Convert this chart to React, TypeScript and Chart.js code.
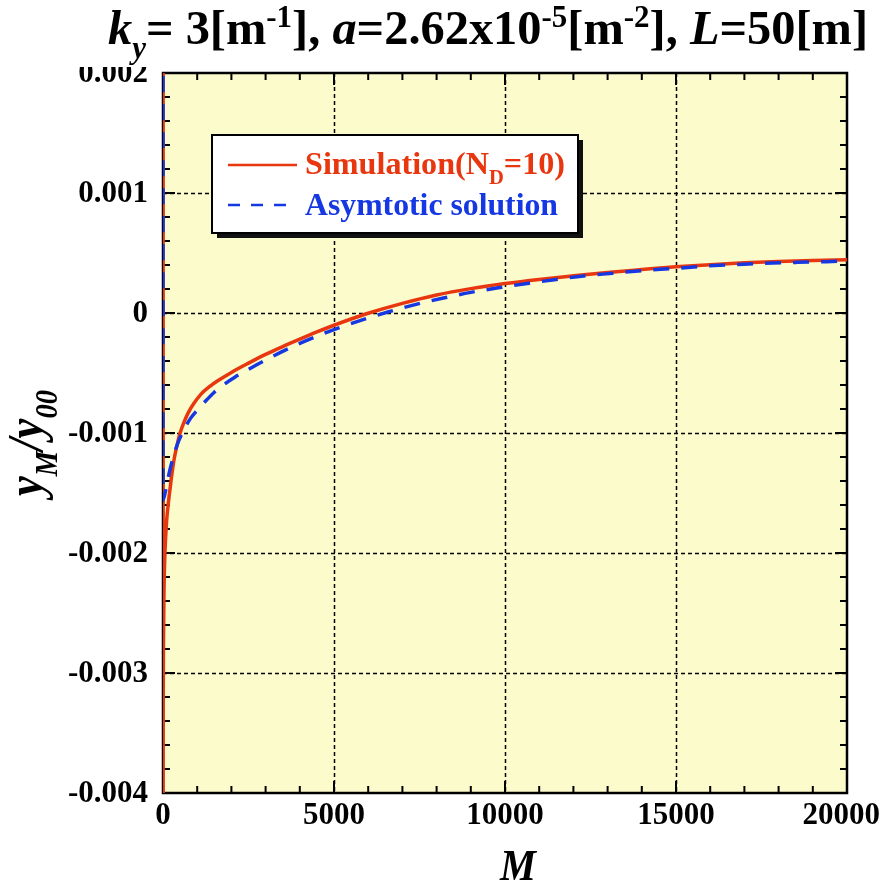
import React, { useEffect, useRef } from 'react';
import { Chart, registerables } from 'chart.js';

Chart.register(...registerables);

// ---------- data ----------
const simM = [0, 2, 5, 15, 30, 50, 75, 107, 150, 204, 270, 330, 420, 500, 600, 740, 900, 1100, 1400, 1600, 2000, 2500, 3000, 3500, 4000, 4500, 5000, 5500, 6000, 7000, 8000, 9000, 10000, 11000, 12000, 13000, 14000, 15000, 16000, 17000, 18000, 19000, 20000];
const simY = [1, -0.0045, -0.0034, -0.0027, -0.0023, -0.00205, -0.00188, -0.00173, -0.0016, -0.00147, -0.00132, -0.00121, -0.00109, -0.001, -0.00092, -0.00083, -0.000755, -0.00068, -0.000605, -0.000565, -0.000495, -0.000418, -0.000345, -0.00028, -0.000218, -0.000158, -0.000102, -0.00005, -0.000002, 0.00008, 0.00015, 0.000203, 0.000245, 0.00028, 0.00031, 0.000338, 0.000362, 0.000385, 0.000403, 0.000418, 0.00043, 0.000438, 0.000443];

const asyM = [0, 1, 60, 200, 400, 600, 800, 1000, 1275, 1500, 1800, 2100, 2450, 3000, 3700, 4400, 5000, 5850, 6600, 7400, 8200, 9000, 9850, 10700, 11500, 12300, 13150, 14000, 15000, 15800, 16750, 17600, 18550, 19400, 20000];
const asyY = [1, -0.00156, -0.0015, -0.00131, -0.00111, -0.00098, -0.00088, -0.00081, -0.000725, -0.00066, -0.000592, -0.000535, -0.000478, -0.000392, -0.000292, -0.000205, -0.000138, -0.000055, 0.00001, 0.000072, 0.000125, 0.000172, 0.000212, 0.000248, 0.00028, 0.000309, 0.000331, 0.000353, 0.000372, 0.00039, 0.000403, 0.000414, 0.000422, 0.000428, 0.000433];

const xTickValues = [0, 5000, 10000, 15000, 20000];
const xTickLabels = ['0', '5000', '10000', '15000', '20000'];
const yTickValues = [-0.004, -0.003, -0.002, -0.001, 0, 0.001, 0.002];
const yTickLabels = ['-0.004', '-0.003', '-0.002', '-0.001', '0', '0.001', '0.002'];
const xMinorStep = 1000;
const yMinorStep = 0.0002;

const seriesNames = ['Simulation(ND=10)', 'Asymtotic solution'];

// ---------- style ----------
const RED = '#e8360f';
const BLUE = '#1638e2';
const BG = '#fbfbcb';
const SERIF = "'Liberation Serif', 'Times New Roman', 'DejaVu Serif', serif";

type Seg = { t: string; i?: boolean; s?: 'sub' | 'sup' };

function drawRich(
  ctx: CanvasRenderingContext2D,
  segs: Seg[],
  x: number,
  y: number,
  base: number,
  align: 'left' | 'center',
  color: string,
  targetWidth?: number,
) {
  const parts = segs.map((s) => {
    const size = s.s ? base * 0.64 : base;
    const font = `${s.i ? 'italic ' : ''}bold ${size}px ${SERIF}`;
    ctx.font = font;
    const w = ctx.measureText(s.t).width;
    return { ...s, font, w };
  });
  const total = parts.reduce((a, p) => a + p.w, 0);
  const sx = targetWidth ? targetWidth / total : 1;
  ctx.save();
  ctx.translate(x, y);
  ctx.scale(sx, 1);
  ctx.fillStyle = color;
  ctx.textBaseline = 'alphabetic';
  ctx.textAlign = 'left';
  let cx = align === 'center' ? -total / 2 : 0;
  for (const p of parts) {
    ctx.font = p.font;
    const dy = p.s === 'sub' ? base * 0.3 : p.s === 'sup' ? -base * 0.36 : 0;
    ctx.fillText(p.t, cx, dy);
    cx += p.w;
  }
  ctx.restore();
}

const customPlugin = {
  id: 'customDecor',
  beforeDraw(chart: any) {
    const { ctx, chartArea: a } = chart;
    ctx.save();
    ctx.fillStyle = '#ffffff';
    ctx.fillRect(0, 0, chart.width, chart.height);
    ctx.fillStyle = BG;
    ctx.fillRect(a.left, a.top, a.right - a.left, a.bottom - a.top);
    ctx.restore();
  },
  beforeDatasetsDraw(chart: any) {
    const { ctx, chartArea: a } = chart;
    const xs = chart.scales.x;
    const ys = chart.scales.y;
    ctx.save();
    // dotted grid
    ctx.strokeStyle = '#000000';
    ctx.lineWidth = 1.5;
    ctx.setLineDash([4, 3]);
    xTickValues.forEach((v) => {
      const px = Math.round(xs.getPixelForValue(v)) + 0.5;
      if (px <= a.left + 2 || px >= a.right - 2) return;
      ctx.beginPath();
      ctx.moveTo(px, a.top);
      ctx.lineTo(px, a.bottom);
      ctx.stroke();
    });
    yTickValues.forEach((v) => {
      const py = Math.round(ys.getPixelForValue(v)) + 0.5;
      if (py <= a.top + 2 || py >= a.bottom - 2) return;
      ctx.beginPath();
      ctx.moveTo(a.left, py);
      ctx.lineTo(a.right, py);
      ctx.stroke();
    });
    ctx.setLineDash([]);
    // ticks
    ctx.lineWidth = 2;
    const major = 12;
    const minor = 7;
    for (let v = xs.min; v <= xs.max + 1e-9; v += xMinorStep) {
      const isMajor = Math.abs(v / 5000 - Math.round(v / 5000)) < 1e-6;
      const len = isMajor ? major : minor;
      const px = xs.getPixelForValue(v);
      ctx.beginPath();
      ctx.moveTo(px, a.bottom);
      ctx.lineTo(px, a.bottom - len);
      ctx.moveTo(px, a.top);
      ctx.lineTo(px, a.top + len);
      ctx.stroke();
    }
    const nY = Math.round((ys.max - ys.min) / yMinorStep);
    for (let k = 0; k <= nY; k++) {
      const v = ys.min + k * yMinorStep;
      const isMajor = k % 5 === 0;
      const len = isMajor ? major : minor;
      const py = ys.getPixelForValue(v);
      ctx.beginPath();
      ctx.moveTo(a.left, py);
      ctx.lineTo(a.left + len, py);
      ctx.moveTo(a.right, py);
      ctx.lineTo(a.right - len, py);
      ctx.stroke();
    }
    // frame
    ctx.lineWidth = 2.5;
    ctx.strokeRect(a.left, a.top, a.right - a.left, a.bottom - a.top);
    ctx.restore();
  },
  afterDraw(chart: any) {
    const { ctx } = chart;
    const xs = chart.scales.x;
    const ys = chart.scales.y;
    ctx.save();
    // y tick labels
    ctx.fillStyle = '#000000';
    ctx.font = `bold 31px ${SERIF}`;
    ctx.textAlign = 'right';
    ctx.textBaseline = 'middle';
    yTickValues.forEach((v, i) => {
      ctx.fillText(yTickLabels[i], 148, ys.getPixelForValue(v) + 1);
    });
    // x tick labels
    ctx.textAlign = 'center';
    xTickValues.forEach((v, i) => {
      const w = ctx.measureText(xTickLabels[i]).width;
      let cx = xs.getPixelForValue(v);
      if (cx + w / 2 > 880) cx = 880 - w / 2;
      ctx.fillText(xTickLabels[i], cx, 816);
    });
    // white band behind title (hides top of the 0.002 label as in original)
    ctx.fillStyle = '#ffffff';
    ctx.fillRect(0, 0, chart.width, 67);
    ctx.restore();

    // title
    drawRich(
      ctx,
      [
        { t: 'k', i: true },
        { t: 'y', i: true, s: 'sub' },
        { t: '= 3[m' },
        { t: '-1', s: 'sup' },
        { t: '], ' },
        { t: 'a', i: true },
        { t: '=2.62x10' },
        { t: '-5', s: 'sup' },
        { t: '[m' },
        { t: '-2', s: 'sup' },
        { t: '], ' },
        { t: 'L', i: true },
        { t: '=50[m]' },
      ],
      108,
      44,
      48,
      'left',
      '#000000',
      760,
    );

    // x axis title
    drawRich(ctx, [{ t: 'M', i: true }], 518, 880, 44, 'center', '#000000', 36);

    // y axis title
    ctx.save();
    ctx.translate(42, 443);
    ctx.rotate(-Math.PI / 2);
    drawRich(
      ctx,
      [
        { t: 'y', i: true },
        { t: 'M', i: true, s: 'sub' },
        { t: '/', i: true },
        { t: 'y', i: true },
        { t: '00', i: true, s: 'sub' },
      ],
      0,
      0,
      50,
      'center',
      '#000000',
      106,
    );
    ctx.restore();

    // legend box
    ctx.save();
    const bx = 212, by = 135, bw = 366, bh = 98;
    ctx.fillStyle = '#111111';
    ctx.fillRect(bx + 5, by + 5, bw, bh);
    ctx.fillStyle = '#ffffff';
    ctx.fillRect(bx, by, bw, bh);
    ctx.strokeStyle = '#000000';
    ctx.lineWidth = 2;
    ctx.strokeRect(bx, by, bw, bh);
    // red entry
    ctx.strokeStyle = RED;
    ctx.lineWidth = 2.5;
    ctx.beginPath();
    ctx.moveTo(228, 165);
    ctx.lineTo(297, 165);
    ctx.stroke();
    // blue entry
    ctx.strokeStyle = BLUE;
    ctx.setLineDash([12, 11]);
    ctx.beginPath();
    ctx.moveTo(228, 205);
    ctx.lineTo(297, 205);
    ctx.stroke();
    ctx.setLineDash([]);
    ctx.restore();
    drawRich(
      ctx,
      [{ t: 'Simulation(N' }, { t: 'D', s: 'sub' }, { t: '=10)' }],
      305,
      174,
      32,
      'left',
      RED,
      260,
    );
    drawRich(ctx, [{ t: seriesNames[1] }], 305, 215, 32, 'left', BLUE, 253);
  },
};

export default function App() {
  const ref = useRef<HTMLCanvasElement | null>(null);
  useEffect(() => {
    if (!ref.current) return;
    const chart = new Chart(ref.current, {
      type: 'line',
      data: {
        datasets: [
          {
            label: seriesNames[0],
            data: simM.map((m, i) => ({ x: m, y: simY[i] })),
            borderColor: RED,
            borderWidth: 3.5,
            pointRadius: 0,
            cubicInterpolationMode: 'monotone',
            fill: false,
            order: 1,
          },
          {
            label: seriesNames[1],
            data: asyM.map((m, i) => ({ x: m, y: asyY[i] })),
            borderColor: BLUE,
            borderWidth: 3.5,
            borderDash: [16, 12],
            pointRadius: 0,
            cubicInterpolationMode: 'monotone',
            fill: false,
            order: 0,
          },
        ],
      },
      options: {
        animation: false,
        responsive: false,
        events: [],
        layout: { padding: { left: 163, right: 37, top: 73, bottom: 93 } },
        scales: {
          x: { type: 'linear', min: 0, max: 20000, display: false },
          y: { type: 'linear', min: -0.004, max: 0.002, display: false },
        },
        plugins: {
          legend: { display: false },
          tooltip: { enabled: false },
          title: { display: false },
        },
      },
      plugins: [customPlugin],
    } as any);
    return () => chart.destroy();
  }, []);
  return (
    <div style={{ position: 'absolute', left: 0, top: 0, width: 884, height: 886 }}>
      <canvas ref={ref} width={884} height={886} style={{ display: 'block' }} />
    </div>
  );
}
